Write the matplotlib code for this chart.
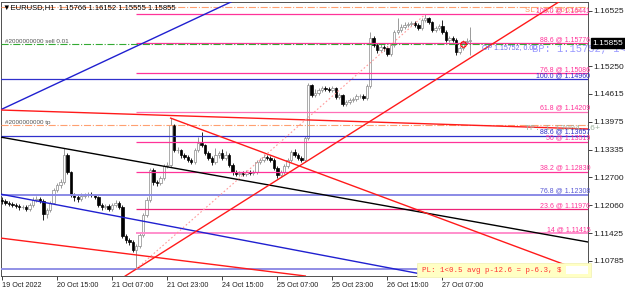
import matplotlib
matplotlib.use("Agg")
import matplotlib.pyplot as plt
import matplotlib.patches as patches
import numpy as np

plt.rcParams['font.family'] = ['Liberation Sans', 'DejaVu Sans']

# H1 candles, 19 Oct 23:00 .. 27 Oct 16:00 (x = bar number)
first_open = 1.1218
closes = [
    1.1216, 1.1211, 1.1209, 1.1207, 1.1204, 1.1202, 1.1202, 1.1198, 1.1207, 1.1218,
    1.1220, 1.1216, 1.1186, 1.1195, 1.1211, 1.1241, 1.1253, 1.1259, 1.1321, 1.1282,
    1.1230, 1.1225, 1.1220, 1.1227, 1.1230, 1.1232, 1.1230, 1.1225, 1.1207, 1.1202,
    1.1204, 1.1198, 1.1207, 1.1211, 1.1202, 1.1136, 1.1126, 1.1122, 1.1104, 1.1113,
    1.1138, 1.1184, 1.1218, 1.1287, 1.1259, 1.1257, 1.1269, 1.1296, 1.1298, 1.1390,
    1.1333, 1.1333, 1.1321, 1.1317, 1.1310, 1.1305, 1.1333, 1.1349, 1.1344, 1.1326,
    1.1315, 1.1305, 1.1321, 1.1326, 1.1315, 1.1321, 1.1298, 1.1282, 1.1278, 1.1280,
    1.1278, 1.1282, 1.1280, 1.1282, 1.1305, 1.1310, 1.1317, 1.1315, 1.1310, 1.1292,
    1.1276, 1.1282, 1.1296, 1.1310, 1.1328, 1.1321, 1.1315, 1.1310, 1.1360, 1.1482,
    1.1459, 1.1464, 1.1470, 1.1475, 1.1473, 1.1470, 1.1475, 1.1454, 1.1459, 1.1438,
    1.1443, 1.1448, 1.1450, 1.1457, 1.1457, 1.1452, 1.1480, 1.1590, 1.1574, 1.1562,
    1.1569, 1.1567, 1.1553, 1.1574, 1.1604, 1.1608, 1.1615, 1.1620, 1.1622, 1.1624,
    1.1620, 1.1613, 1.1631, 1.1636, 1.1626, 1.1608, 1.1613, 1.1617, 1.1604, 1.1585,
    1.1590, 1.1585, 1.1558, 1.1567, 1.1581, 1.1583, 1.15855,
]
highs = [
    1.1224, 1.1220, 1.1216, 1.1214, 1.1211, 1.1209, 1.1207, 1.1206, 1.1211, 1.1224,
    1.1228, 1.1225, 1.1221, 1.1200, 1.1216, 1.1246, 1.1258, 1.1266, 1.1337, 1.1325,
    1.1285, 1.1234, 1.1229, 1.1234, 1.1235, 1.1236, 1.1236, 1.1233, 1.1228, 1.1211,
    1.1209, 1.1208, 1.1211, 1.1218, 1.1215, 1.1206, 1.1140, 1.1131, 1.1127, 1.1118,
    1.1143, 1.1189, 1.1224, 1.1292, 1.1291, 1.1263, 1.1274, 1.1301, 1.1305, 1.1406,
    1.1393, 1.1340, 1.1336, 1.1325, 1.1321, 1.1315, 1.1338, 1.1363, 1.1374, 1.1347,
    1.1330, 1.1320, 1.1337, 1.1331, 1.1335, 1.1330, 1.1325, 1.1302, 1.1287, 1.1285,
    1.1284, 1.1287, 1.1286, 1.1288, 1.1310, 1.1315, 1.1323, 1.1321, 1.1320, 1.1314,
    1.1296, 1.1288, 1.1301, 1.1315, 1.1333, 1.1335, 1.1325, 1.1320, 1.1365, 1.1487,
    1.1485, 1.1472, 1.1476, 1.1480, 1.1479, 1.1478, 1.1480, 1.1478, 1.1464, 1.1462,
    1.1448, 1.1453, 1.1455, 1.1462, 1.1462, 1.1461, 1.1485, 1.1604, 1.1595, 1.1578,
    1.1575, 1.1573, 1.1571, 1.1579, 1.1609, 1.1636, 1.1621, 1.1626, 1.1627, 1.1629,
    1.1628, 1.1624, 1.1636, 1.1644, 1.1639, 1.1629, 1.1618, 1.1622, 1.1631, 1.1608,
    1.1595, 1.1594, 1.1589, 1.1572, 1.1586, 1.1590, 1.1615,
]
lows = [
    1.1210, 1.1206, 1.1204, 1.1202, 1.1199, 1.1196, 1.1197, 1.1192, 1.1194, 1.1203,
    1.1214, 1.1211, 1.1172, 1.1176, 1.1191, 1.1208, 1.1236, 1.1246, 1.1255, 1.1277,
    1.1224, 1.1216, 1.1214, 1.1216, 1.1223, 1.1226, 1.1225, 1.1221, 1.1202, 1.1196,
    1.1198, 1.1193, 1.1194, 1.1201, 1.1198, 1.1131, 1.1119, 1.1115, 1.1098, 1.1060,
    1.1108, 1.1133, 1.1179, 1.1214, 1.1253, 1.1251, 1.1252, 1.1264, 1.1291, 1.1295,
    1.1328, 1.1325, 1.1315, 1.1312, 1.1305, 1.1300, 1.1301, 1.1329, 1.1339, 1.1321,
    1.1309, 1.1299, 1.1301, 1.1315, 1.1310, 1.1310, 1.1293, 1.1275, 1.1273, 1.1274,
    1.1273, 1.1274, 1.1275, 1.1276, 1.1278, 1.1300, 1.1305, 1.1310, 1.1305, 1.1286,
    1.1269, 1.1271, 1.1278, 1.1292, 1.1306, 1.1316, 1.1310, 1.1305, 1.1306, 1.1356,
    1.1454, 1.1455, 1.1460, 1.1466, 1.1468, 1.1465, 1.1466, 1.1449, 1.1450, 1.1433,
    1.1434, 1.1439, 1.1443, 1.1445, 1.1451, 1.1447, 1.1448, 1.1476, 1.1568, 1.1556,
    1.1557, 1.1561, 1.1548, 1.1549, 1.1570, 1.1599, 1.1603, 1.1610, 1.1615, 1.1617,
    1.1615, 1.1608, 1.1609, 1.1627, 1.1621, 1.1603, 1.1603, 1.1608, 1.1599, 1.1580,
    1.1581, 1.1580, 1.1551, 1.1553, 1.1562, 1.1576, 1.1551,
]

time_ticks = [0, 16, 32, 48, 64, 80, 96, 112, 128]
time_labels = ["19 Oct 2022", "20 Oct 15:00", "21 Oct 07:00", "21 Oct 23:00", "24 Oct 15:00",
               "25 Oct 07:00", "25 Oct 23:00", "26 Oct 15:00", "27 Oct 07:00"]
price_ticks = [1.16525, 1.15250, 1.14615, 1.13975, 1.13335, 1.12700, 1.12060, 1.11425, 1.10785]
last_price = 1.15855
header = "\u25bcEURUSD,H1  1.15766 1.16152 1.15555 1.15855"

# fibonacci (pink one anchored at the 21 Oct low, bar 39)
fib_start = 39
pink_pct = ["100.0", "88.6", "76.8", "61.8", "50", "38.2", "23.6", "14", "0"]
pink_price = [1.16441, 1.15776, 1.15086, 1.14209, 1.13519, 1.12830, 1.11976, 1.11415, 1.10598]
pink_col = ["#ff3399", "#ff3399", "#ff3399", "#ff6fb7", "#ff3399", "#ff3399", "#ee2277", "#ff8fcc", "#ff99cc"]
blue_pct = ["100.0", "88.6", "76.8", "61.8"]
blue_price = [1.14960, 1.13657, 1.12308, 1.10594]
blue_col = ["#3030cc", "#3030cc", "#8a8ae6", "#9090e6"]
hidden_labels = ["0", "61.8b"]  # these sit under the P/L box

# order lines
sl_price = 1.16615
op_price = 1.15752
tp_price = 1.13904
op_bar = 134

# trend lines through two anchors (bar, price)
ray_a = [(0, 1.14267), (0, 1.14245), (0, 1.13619), (0, 1.12311), (0, 1.11305), (39, 1.10598)]
ray_b = [(60, 1.16482), (160, 1.13837), (160, 1.11364), (100, 1.10812), (80, 1.10519), (150, 1.16134)]
ray_col = ["#2020d0", "#ff1a1a", "black", "#2020d0", "#ff1a1a", "#ff1a1a"]
seg_bars = [49, 170]
seg_prices = [1.1406, 1.1051]
fib_diag_bars = [39, 123]
fib_diag_prices = [1.10598, 1.16441]

W, H = 625, 288
fig = plt.figure(figsize=(W / 100, H / 100), dpi=100)
ax = fig.add_axes([1 / W, 12 / H, 587 / W, 274 / H])
ax.set_xlim(-0.3, 170.3)
ax.set_ylim(1.10439, 1.16723)

# candles
o = np.array([first_open] + closes[:-1])
c = np.array(closes)
hi = np.array(highs)
lo = np.array(lows)
x = np.arange(len(c))
up = c >= o
body = np.maximum(np.abs(c - o), 0.00004)
bot = np.minimum(o, c)
ax.vlines(x[up], lo[up], hi[up], color="#8a8a8a", lw=0.6, zorder=2)
ax.vlines(x[~up], lo[~up], hi[~up], color="black", lw=0.6, zorder=2)
ax.bar(x[up], body[up], bottom=bot[up], width=0.7, color="white", edgecolor="#8a8a8a", lw=0.5, zorder=3)
ax.bar(x[~up], body[~up], bottom=bot[~up], width=0.7, color="black", edgecolor="black", lw=0.5, zorder=3)

# fib levels
for pct, p, col in zip(pink_pct, pink_price, pink_col):
    lw = 1.4 if col in ("#ff8fcc", "#ff99cc") else 0.9
    ax.hlines(p, fib_start, 171, color=col, lw=lw, zorder=4)
    if pct not in hidden_labels:
        ax.text(1.004, p, f"{pct} @ {p:.5f}", transform=ax.get_yaxis_transform(), ha="right",
                va="bottom", fontsize=5, color="#ff3399", zorder=6)
for pct, p, col in zip(blue_pct, blue_price, blue_col):
    lw = 1.4 if col.startswith("#8") or col.startswith("#9") else 0.9
    ax.axhline(p, color=col, lw=lw, zorder=4)
    if pct + "b" not in hidden_labels:
        ax.text(1.004, p, f"{pct} @ {p:.5f}", transform=ax.get_yaxis_transform(), ha="right",
                va="bottom", fontsize=5, color="#3030cc" if pct != "76.8" else "#5a5ad6", zorder=6)

# trend lines
for a, b, col in zip(ray_a, ray_b, ray_col):
    ax.axline(a, b, color=col, lw=1.0, zorder=5)
ax.plot(seg_bars, seg_prices, color="#ff1a1a", lw=1.0, zorder=5)
ax.plot(fib_diag_bars, fib_diag_prices, color="#ff9999", lw=0.8, ls=(0, (1.5, 2)), zorder=5)

# order lines
ax.axhline(sl_price, color="#ffa070", lw=0.8, ls="-.", zorder=4)
ax.axhline(op_price, color="#33aa33", lw=0.8, ls="-.", zorder=4)
ax.axhline(tp_price, color="#ffa070", lw=0.8, ls="-.", zorder=4)
ax.plot(op_bar, op_price, "o", mfc="none", mec="red", ms=4, mew=0.8, zorder=7)

ax.text(1, op_price, "#2000000000 sell 0.01", fontsize=4.5, color="#505050", va="bottom", zorder=6)
ax.text(1, tp_price, "#2000000000 tp", fontsize=4.5, color="#505050", va="bottom", zorder=6)
ax.text(152, sl_price, "SL: 1.16615", family="Liberation Mono", fontsize=6, color="#ff9966",
        va="top", zorder=5)
ax.text(152, tp_price, "TP: 1.13904, 6+", family="Liberation Mono", fontsize=6, color="#a0b4a0",
        va="top", zorder=5)
ax.text(139.5, op_price, "OP 1.15752, 0.00", fontsize=5, color="#6a6ae8", va="top", zorder=6)
ax.text(154, op_price, "BP: 1.15752, 1<", family="Liberation Mono", fontsize=7.5,
        color="#9a9aff", va="top", zorder=6, clip_on=False)

ax.text(0.004, 0.992, header, transform=ax.transAxes, fontsize=5.5, color="black",
        va="top", ha="left", family=["Liberation Sans", "DejaVu Sans"], zorder=6)

# profit box
fig.patches.append(patches.Rectangle((417 / W, (H - 277) / H), 174 / W, 14 / H,
                                     transform=fig.transFigure, facecolor="#ffffc4",
                                     edgecolor="#f0f0b0", lw=0.5, zorder=10))
fig.patches.append(patches.Rectangle((566 / W, (H - 274) / H), 22 / W, 8 / H,
                                     transform=fig.transFigure, facecolor="white",
                                     edgecolor="none", zorder=11))
fig.text(422 / W, (H - 270) / H, "PL: 1<0.5 avg p-12.6 = p-6.3, $", family="Liberation Mono",
         fontsize=5.4, color="#ff3030", va="center", ha="left", zorder=12)

# axes
ax.yaxis.tick_right()
ax.set_yticks(price_ticks)
ax.set_yticklabels([f"{p:.5f}" for p in price_ticks])
ax.set_xticks(time_ticks)
ax.set_xticklabels(time_labels)
for lbl in ax.get_xticklabels():
    lbl.set_ha("left")
ax.tick_params(axis="y", length=3, width=0.6, labelsize=6, pad=1, colors="#202020")
ax.tick_params(axis="x", length=3, width=0.6, labelsize=5.2, pad=1, colors="#202020")
for s in ax.spines.values():
    s.set_color("#505050")
    s.set_linewidth(0.7)

ax.annotate(f"{last_price:.5f}", xy=(1.0, last_price), xycoords=("axes fraction", "data"),
            xytext=(3, -2.5), textcoords="offset points", ha="left", va="center",
            fontsize=6, color="white",
            bbox=dict(boxstyle="square,pad=0.2", fc="black", ec="black"), zorder=8)

fig.savefig("out.png", dpi=100)
